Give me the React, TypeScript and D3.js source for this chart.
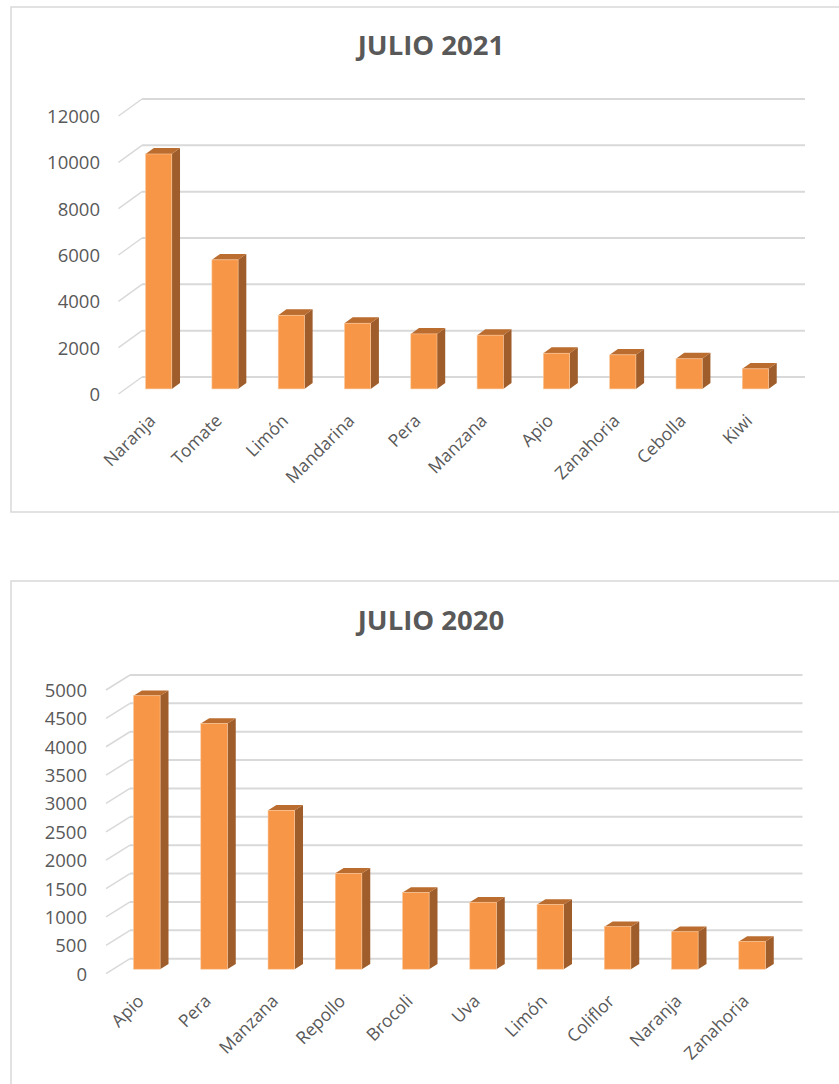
import * as d3 from 'd3'

// JULIO 2021
const cats2021 = ['Naranja', 'Tomate', 'Limón', 'Mandarina', 'Pera', 'Manzana', 'Apio', 'Zanahoria', 'Cebolla', 'Kiwi']
const vals2021 = [10140, 5570, 3180, 2835, 2375, 2320, 1540, 1470, 1300, 865]
const ticks2021 = [0, 2000, 4000, 6000, 8000, 10000, 12000]

// JULIO 2020
const cats2020 = ['Apio', 'Pera', 'Manzana', 'Repollo', 'Brocoli', 'Uva', 'Limón', 'Coliflor', 'Naranja', 'Zanahoria']
const vals2020 = [4820, 4330, 2800, 1690, 1350, 1180, 1140, 750, 660, 490]
const ticks2020 = [0, 500, 1000, 1500, 2000, 2500, 3000, 3500, 4000, 4500, 5000]

const FRONT = '#f79646'
const SIDE = '#9e5d2b'
const TOP = '#bb6c2f'
const GRID = '#d9d9d9'
const TEXT = '#595959'
const FONT = '"Open Sans", sans-serif'

type ChartProps = {
	title: string
	cats: string[]
	vals: number[]
	ticks: number[]
	frame: { x: number; y: number; w: number; h: number }
	titleY: number
	wall: { x0: number; x1: number; y0: number; y1: number }
	depth: { dx: number; dy: number }
	labelRight: number
}

const Chart3D = ({ title, cats, vals, ticks, frame, titleY, wall, depth, labelRight }: ChartProps) => {
	const x = d3.scaleBand().domain(cats).range([wall.x0, wall.x1])
	const y = d3
		.scaleLinear()
		.domain([0, d3.max(ticks) as number])
		.range([wall.y0, wall.y1])

	// depth fractions of the bar slab, measured from the back wall
	const fFront = 0.7
	const fBack = 0.35
	const bw = x.bandwidth() * 0.395
	const P = (px: number, v: number, f: number) => [px - f * depth.dx, y(v) + f * depth.dy]
	const pts = (arr: number[][]) => arr.map((p) => p.join(',')).join(' ')

	return (
		<g>
			<rect x={frame.x} y={frame.y} width={frame.w} height={frame.h} fill="#fff" stroke={GRID} strokeWidth={1.5} />
			<text x={431} y={titleY} textAnchor="middle" fontFamily={FONT} fontWeight="bold" fontSize={27.5} fill={TEXT}>
				{title}
			</text>
			{ticks.map((t) => (
				<g key={t}>
					<line x1={wall.x0} x2={wall.x1} y1={y(t)} y2={y(t)} stroke={GRID} strokeWidth={2} />
					<line
						x1={wall.x0 - depth.dx}
						y1={y(t) + depth.dy}
						x2={wall.x0}
						y2={y(t)}
						stroke={GRID}
						strokeWidth={1.5}
					/>
					<text
						x={labelRight}
						y={y(t) + depth.dy + 2}
						textAnchor="end"
						dominantBaseline="middle"
						fontFamily={FONT}
						fontSize={18.5}
						fill={TEXT}
					>
						{t}
					</text>
				</g>
			))}
			{cats.map((c, i) => {
				const cx = (x(c) as number) + x.bandwidth() / 2
				const l = cx - bw / 2
				const r = cx + bw / 2
				const v = vals[i]
				const fl = P(l, 0, fFront)
				const ft = P(r, v, fFront)
				const [lx, ly] = P(cx, 0, fFront)
				return (
					<g key={c}>
						<polygon points={pts([P(r, 0, fFront), P(r, v, fFront), P(r, v, fBack), P(r, 0, fBack)])} fill={SIDE} />
						<polygon points={pts([P(l, v, fFront), P(r, v, fFront), P(r, v, fBack), P(l, v, fBack)])} fill={TOP} />
						<rect x={fl[0]} y={ft[1]} width={bw} height={fl[1] - ft[1]} fill={FRONT} stroke="#fbc89c" strokeWidth={0.6} />
						<text
							transform={`translate(${lx - 2},${ly + 33}) rotate(-45)`}
							textAnchor="end"
							fontFamily={FONT}
							fontSize={17.5}
							fill={TEXT}
						>
							{c}
						</text>
					</g>
				)
			})}
		</g>
	)
}

export default function App() {
	return (
		<svg width={839} height={1084} style={{ position: 'absolute', left: 0, top: 0, background: '#fff' }}>
			<Chart3D
				title="JULIO 2021"
				cats={cats2021}
				vals={vals2021}
				ticks={ticks2021}
				frame={{ x: 11, y: 7, w: 840, h: 505 }}
				titleY={55}
				wall={{ x0: 142, x1: 805, y0: 377, y1: 99 }}
				depth={{ dx: 23.5, dy: 17 }}
				labelRight={100}
			/>
			<Chart3D
				title="JULIO 2020"
				cats={cats2020}
				vals={vals2020}
				ticks={ticks2020}
				frame={{ x: 11, y: 581, w: 840, h: 520 }}
				titleY={630}
				wall={{ x0: 130, x1: 802.5, y0: 958.7, y1: 675 }}
				depth={{ dx: 24, dy: 15 }}
				labelRight={87}
			/>
		</svg>
	)
}
